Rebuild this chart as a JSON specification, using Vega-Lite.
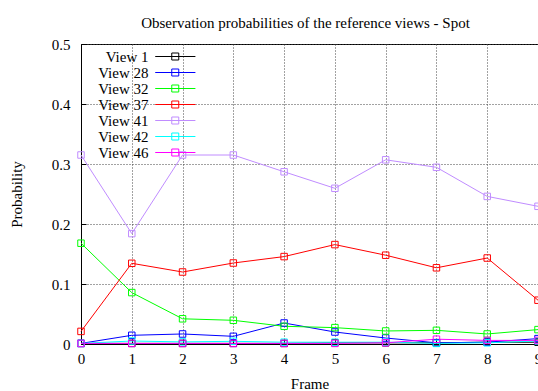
{
  "$schema": "https://vega.github.io/schema/vega-lite/v6.json",
  "width": 457,
  "height": 300,
  "autosize": {"type": "none"},
  "padding": {"left": 81, "top": 44, "right": 0, "bottom": 47},
  "background": "white",
  "title": {
    "text": "Observation probabilities of the reference views - Spot",
    "font": "Liberation Serif",
    "fontSize": 15,
    "fontWeight": "normal",
    "color": "black",
    "offset": 6,
    "dx": -4
  },
  "config": {
    "view": {"stroke": "black", "strokeWidth": 1},
    "axis": {
      "labelFont": "Liberation Serif",
      "labelFontSize": 15,
      "labelColor": "black",
      "titleFont": "Liberation Serif",
      "titleFontSize": 15,
      "titleFontWeight": "normal",
      "titleColor": "black",
      "domainColor": "black",
      "tickColor": "black",
      "gridColor": "#444",
      "gridDash": [1, 2],
      "gridWidth": 1
    },
    "legend": {
      "labelFont": "Liberation Serif",
      "labelFontSize": 15,
      "labelColor": "black"
    }
  },
  "data": {
    "values": [
      {"frame": 0, "view": "View 1", "p": 0.001}, {"frame": 1, "view": "View 1", "p": 0.001}, {"frame": 2, "view": "View 1", "p": 0.001}, {"frame": 3, "view": "View 1", "p": 0.001}, {"frame": 4, "view": "View 1", "p": 0.001}, {"frame": 5, "view": "View 1", "p": 0.002}, {"frame": 6, "view": "View 1", "p": 0.002}, {"frame": 7, "view": "View 1", "p": 0.002}, {"frame": 8, "view": "View 1", "p": 0.003}, {"frame": 9, "view": "View 1", "p": 0.003},
      {"frame": 0, "view": "View 28", "p": 0.001}, {"frame": 1, "view": "View 28", "p": 0.0145}, {"frame": 2, "view": "View 28", "p": 0.0167}, {"frame": 3, "view": "View 28", "p": 0.0128}, {"frame": 4, "view": "View 28", "p": 0.035}, {"frame": 5, "view": "View 28", "p": 0.02}, {"frame": 6, "view": "View 28", "p": 0.01}, {"frame": 7, "view": "View 28", "p": 0.002}, {"frame": 8, "view": "View 28", "p": 0.003}, {"frame": 9, "view": "View 28", "p": 0.009},
      {"frame": 0, "view": "View 32", "p": 0.168}, {"frame": 1, "view": "View 32", "p": 0.0857}, {"frame": 2, "view": "View 32", "p": 0.042}, {"frame": 3, "view": "View 32", "p": 0.0395}, {"frame": 4, "view": "View 32", "p": 0.0295}, {"frame": 5, "view": "View 32", "p": 0.0273}, {"frame": 6, "view": "View 32", "p": 0.0217}, {"frame": 7, "view": "View 32", "p": 0.0228}, {"frame": 8, "view": "View 32", "p": 0.0167}, {"frame": 9, "view": "View 32", "p": 0.024},
      {"frame": 0, "view": "View 37", "p": 0.021}, {"frame": 1, "view": "View 37", "p": 0.1345}, {"frame": 2, "view": "View 37", "p": 0.12}, {"frame": 3, "view": "View 37", "p": 0.135}, {"frame": 4, "view": "View 37", "p": 0.1457}, {"frame": 5, "view": "View 37", "p": 0.1657}, {"frame": 6, "view": "View 37", "p": 0.148}, {"frame": 7, "view": "View 37", "p": 0.127}, {"frame": 8, "view": "View 37", "p": 0.1433}, {"frame": 9, "view": "View 37", "p": 0.073},
      {"frame": 0, "view": "View 41", "p": 0.315}, {"frame": 1, "view": "View 41", "p": 0.184}, {"frame": 2, "view": "View 41", "p": 0.315}, {"frame": 3, "view": "View 41", "p": 0.315}, {"frame": 4, "view": "View 41", "p": 0.287}, {"frame": 5, "view": "View 41", "p": 0.2595}, {"frame": 6, "view": "View 41", "p": 0.307}, {"frame": 7, "view": "View 41", "p": 0.2945}, {"frame": 8, "view": "View 41", "p": 0.246}, {"frame": 9, "view": "View 41", "p": 0.2295},
      {"frame": 0, "view": "View 42", "p": 0.001}, {"frame": 1, "view": "View 42", "p": 0.005}, {"frame": 2, "view": "View 42", "p": 0.0035}, {"frame": 3, "view": "View 42", "p": 0.0045}, {"frame": 4, "view": "View 42", "p": 0.003}, {"frame": 5, "view": "View 42", "p": 0.003}, {"frame": 6, "view": "View 42", "p": 0.003}, {"frame": 7, "view": "View 42", "p": 0.001}, {"frame": 8, "view": "View 42", "p": 0.002}, {"frame": 9, "view": "View 42", "p": 0.005},
      {"frame": 0, "view": "View 46", "p": 0.001}, {"frame": 1, "view": "View 46", "p": 0.001}, {"frame": 2, "view": "View 46", "p": 0.001}, {"frame": 3, "view": "View 46", "p": 0.001}, {"frame": 4, "view": "View 46", "p": 0.001}, {"frame": 5, "view": "View 46", "p": 0.001}, {"frame": 6, "view": "View 46", "p": 0.002}, {"frame": 7, "view": "View 46", "p": 0.008}, {"frame": 8, "view": "View 46", "p": 0.006}, {"frame": 9, "view": "View 46", "p": 0.006}
    ]
  },
  "encoding": {
    "x": {
      "field": "frame",
      "type": "quantitative",
      "scale": {"domain": [0, 9], "nice": false},
      "axis": {"title": "Frame", "values": [0,1,2,3,4,5,6,7,8,9], "format": "d", "labelPadding": 12, "tickSize": -5, "titlePadding": 10, "labelFlush": false}
    },
    "y": {
      "field": "p",
      "type": "quantitative",
      "scale": {"domain": [0, 0.5], "nice": false},
      "axis": {"title": "Probability", "values": [0,0.1,0.2,0.3,0.4,0.5], "format": ".1~f", "labelPadding": 16, "tickSize": -5, "titlePadding": 27, "labelFlush": false}
    },
    "color": {
      "field": "view",
      "type": "nominal",
      "scale": {
        "domain": ["View 1", "View 28", "View 32", "View 37", "View 41", "View 42", "View 46"],
        "range": ["#000000", "#0000ff", "#00ff00", "#ff0000", "#c08cff", "#00ffff", "#ff00ff"]
      },
      "legend": {
        "title": null,
        "orient": "none",
        "legendX": 11,
        "legendY": 5,
        "padding": 0,
        "labelAlign": "right",
        "labelOffset": 41.5,
        "rowPadding": -0.5,
        "symbolType": "M-1,0h0.001M17.2,0H29.6M22.3,-1.08H24.46V1.08H22.3Z",
        "symbolSize": 42,
        "symbolStrokeWidth": 1,
        "symbolFillColor": "transparent"
      }
    }
  },
  "layer": [
    {"mark": {"type": "line", "strokeWidth": 1}},
    {"mark": {"type": "point", "shape": "square", "filled": false, "size": 42, "strokeWidth": 1, "opacity": 1}}
  ]
}
